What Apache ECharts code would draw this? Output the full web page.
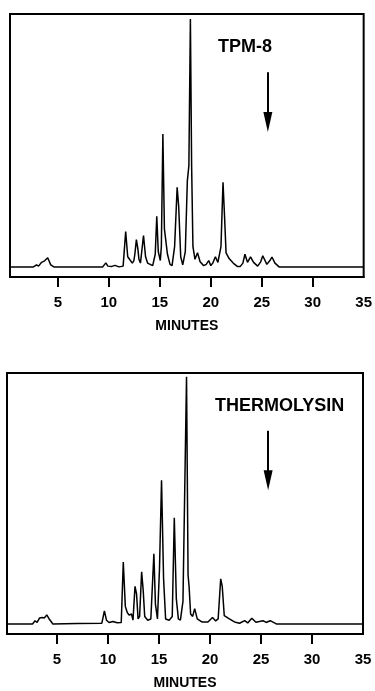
<!DOCTYPE html>
<html>
<head>
<meta charset="utf-8">
<script src="https://cdn.jsdelivr.net/npm/echarts@6/dist/echarts.min.js"></script>
<style>
  html, body { margin: 0; padding: 0; background: #fff; }
  #chart { width: 375px; height: 691px; }
</style>
</head>
<body>
<div id="chart"></div>
<script>
// minute ticks and labels
const tickValues = [5, 10, 15, 20, 25, 30];
const labelValues = [5, 10, 15, 20, 25, 30, 35];

// TPM-8 trace: [minutes, signal]
const tpmTrace = [
  [0.3, 0], [2.6, 0], [2.9, 0.8], [3.1, 0.3], [3.4, 1.8], [3.7, 2.4], [4.0, 3.6], [4.3, 0.8], [4.6, 0],
  [9.4, 0], [9.7, 1.6], [9.9, 0.3], [10.3, 0.2], [10.6, 0.6], [11.0, 0], [11.4, 0.3],
  [11.65, 14], [11.85, 4], [12.1, 2.6], [12.3, 1.5], [12.45, 2.4], [12.55, 5], [12.7, 10.8], [12.85, 7],
  [12.95, 3], [13.1, 1.5], [13.4, 12.4], [13.6, 4], [13.8, 1.5], [14.3, 0.5], [14.55, 5], [14.7, 20],
  [14.85, 6], [15.05, 2.5], [15.15, 8], [15.3, 52.5], [15.45, 15], [15.55, 14.5], [15.75, 5], [16.0, 1],
  [16.2, 0.5], [16.45, 8], [16.7, 31.5], [16.85, 24], [17.05, 4], [17.25, 0.8], [17.5, 6], [17.7, 34],
  [17.85, 40], [18.0, 98], [18.12, 40], [18.25, 8], [18.45, 3], [18.7, 5.6], [18.95, 2], [19.3, 0.5],
  [19.55, 1], [19.8, 2.5], [20.0, 0.5], [20.2, 1.5], [20.45, 4], [20.7, 1.8], [20.85, 1.4], [21.0, 8],
  [21.2, 33.5], [21.35, 20], [21.5, 5.5], [21.8, 3.3], [22.2, 1.5], [22.6, 0.2], [22.9, 0.2], [23.15, 1.5],
  [23.35, 5], [23.6, 1.8], [23.9, 4], [24.2, 1.8], [24.6, 0.3], [24.9, 2], [25.1, 4.4], [25.5, 1],
  [25.8, 2.5], [26.0, 3.9], [26.3, 1.5], [26.7, 0], [35, 0]
];

// THERMOLYSIN trace: [minutes, signal]
const thermoTrace = [
  [0.1, 0], [2.6, 0], [2.85, 1.3], [3.05, 0.6], [3.3, 2.4], [3.55, 2.6], [3.75, 2.4], [4.0, 3.6], [4.2, 2.2],
  [4.6, 0], [7.0, 0.2], [9.4, 0.3], [9.65, 5.2], [9.85, 1.5], [10.1, 0.6], [10.5, 1], [10.9, 0.5], [11.3, 0.6],
  [11.5, 24.7], [11.7, 7], [11.9, 4.5], [12.1, 3.5], [12.3, 4], [12.45, 1.5], [12.65, 15], [12.8, 12],
  [12.95, 2], [13.1, 3], [13.3, 20.8], [13.45, 13.5], [13.6, 3], [13.9, 1.5], [14.2, 2], [14.5, 28],
  [14.65, 8], [14.85, 2], [15.05, 22], [15.25, 57.3], [15.45, 18], [15.65, 2], [16.0, 1.5], [16.3, 3],
  [16.5, 42.3], [16.7, 10], [16.9, 2], [17.1, 1.5], [17.35, 9], [17.7, 98.5], [17.85, 19.5], [17.95, 15],
  [18.1, 4], [18.3, 3], [18.5, 6.1], [18.75, 2], [19.2, 0.8], [19.8, 0.8], [20.25, 2.6], [20.55, 1.2],
  [20.8, 2], [21.05, 18], [21.2, 15], [21.4, 3.3], [21.9, 2], [22.4, 0.8], [22.9, 0.3], [23.4, 1.3],
  [23.7, 0.4], [24.1, 2.3], [24.5, 0.7], [25.2, 1.3], [25.5, 0.6], [25.9, 1.3], [26.5, 0], [35, 0]
];

// arrow annotations: [minutes, signal at tail, signal at head centre]
const tpmArrow = [25.6, 77, 57.3];
const thermoArrow = [25.7, 77, 57.3];

const font = 'Liberation Sans, Arial, sans-serif';

function xAxisFor(gridIndex, min) {
  return {
    type: 'value',
    gridIndex: gridIndex,
    min: min,
    max: 35,
    position: 'bottom',
    name: 'MINUTES',
    nameLocation: 'middle',
    nameGap: 42,
    nameTextStyle: { color: '#000', fontFamily: font, fontWeight: 'bold', fontSize: 14 },
    axisLine: { show: true, onZero: false, lineStyle: { color: '#000', width: 2 } },
    axisTick: { show: true, customValues: tickValues, length: 10, lineStyle: { color: '#000', width: 2 } },
    axisLabel: { show: true, customValues: labelValues, margin: 18, color: '#000', fontFamily: font, fontWeight: 'bold', fontSize: 15 },
    splitLine: { show: false }
  };
}

function yAxisFor(gridIndex) {
  return {
    type: 'value',
    gridIndex: gridIndex,
    min: -4,
    max: 100,
    axisLine: { show: false },
    axisTick: { show: false },
    axisLabel: { show: false },
    splitLine: { show: false }
  };
}

function traceSeries(idx, data, arrow) {
  return {
    type: 'line',
    xAxisIndex: idx,
    yAxisIndex: idx,
    data: data,
    showSymbol: false,
    lineStyle: { color: '#000', width: 1.5 },
    markLine: {
      silent: true,
      symbol: ['none', 'triangle'],
      symbolSize: [9, 20],
      label: { show: false },
      lineStyle: { color: '#000', width: 2, type: 'solid' },
      data: [[{ coord: [arrow[0], arrow[1]] }, { coord: [arrow[0], arrow[2]] }]]
    }
  };
}

const chart = echarts.init(document.getElementById('chart'));
chart.setOption({
  animation: false,
  backgroundColor: '#fff',
  grid: [
    { left: 10, width: 355, top: 14, height: 263, show: true, borderColor: '#000', borderWidth: 2 },
    { left: 7, width: 356, top: 373, height: 265, show: true, borderColor: '#000', borderWidth: 2 }
  ],
  xAxis: [xAxisFor(0, 0.3), xAxisFor(1, 0.1)],
  yAxis: [yAxisFor(0), yAxisFor(1)],
  graphic: [
    { type: 'text', left: 246 - 28, top: 38, style: { text: 'TPM-8', fill: '#000', font: 'bold 18px ' + font } },
    { type: 'text', left: 215, top: 397, style: { text: 'THERMOLYSIN', fill: '#000', font: 'bold 18px ' + font } }
  ],
  series: [traceSeries(0, tpmTrace, tpmArrow), traceSeries(1, thermoTrace, thermoArrow)]
});
</script>
</body>
</html>
